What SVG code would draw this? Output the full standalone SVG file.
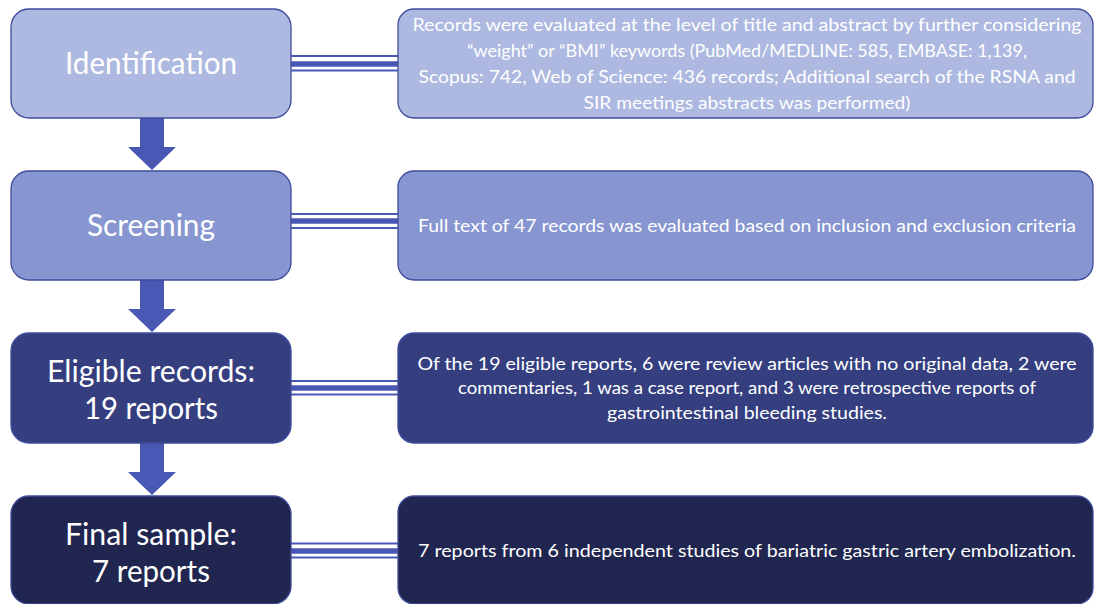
<svg xmlns="http://www.w3.org/2000/svg" width="1094" height="604" viewBox="0 0 1094 604">
<style>
.n1{fill:#adb9e0;stroke:#3f4c9c;stroke-width:1.3}
.n2{fill:#8796d0;stroke:#3f4c9c;stroke-width:1.3}
.n3{fill:#353f80;stroke:#3f4c9c;stroke-width:1.3}
.n4{fill:#20264f;stroke:#3f4c9c;stroke-width:1.3}
.big{font-family:Lato,"Open Sans",sans-serif;font-size:30px;fill:#fff;text-anchor:middle}
.sm{font-family:Lato,"Open Sans",sans-serif;font-size:18px;fill:#fff;text-anchor:middle}
.arr{fill:#4a58b5}
.thin{stroke:#4a58b5;stroke-width:2;fill:none}
.thick{stroke:#4a58b5;stroke-width:5.5;fill:none}
</style>
<rect width="1094" height="604" fill="#fff"/>
<g id="connectors">
<path class="arr" d="M140,118 H164 V147 H176 L152,170 L128,147 H140 Z"/>
<path class="arr" d="M140,280 H164 V309 H176 L152,332 L128,309 H140 Z"/>
<path class="arr" d="M140,443 H164 V472 H176 L152,495 L128,472 H140 Z"/>
<g id="c1"><line class="thin" x1="291" y1="56" x2="398" y2="56"/><line class="thick" x1="291" y1="64" x2="398" y2="64"/><line class="thin" x1="291" y1="70.5" x2="398" y2="70.5"/></g>
<g id="c2"><line class="thin" x1="291" y1="214" x2="398" y2="214"/><line class="thick" x1="291" y1="221" x2="398" y2="221"/><line class="thin" x1="291" y1="228" x2="398" y2="228"/></g>
<g id="c3"><line class="thin" x1="291" y1="381" x2="398" y2="381"/><line class="thick" x1="291" y1="388" x2="398" y2="388"/><line class="thin" x1="291" y1="394.5" x2="398" y2="394.5"/></g>
<g id="c4"><line class="thin" x1="291" y1="543.5" x2="398" y2="543.5"/><line class="thick" x1="291" y1="551" x2="398" y2="551"/><line class="thin" x1="291" y1="557.5" x2="398" y2="557.5"/></g>
</g>
<g id="identification">
<rect class="n1" x="11" y="9" width="280" height="109" rx="18"/>
<text class="big" x="151" y="74" textLength="172" lengthAdjust="spacingAndGlyphs">Identification</text>
</g>
<g id="identification-detail">
<rect class="n1" x="398" y="9" width="695" height="109" rx="16"/>
<text class="sm" x="747" y="31" textLength="669" lengthAdjust="spacingAndGlyphs">Records were evaluated at the level of title and abstract by further considering</text>
<text class="sm" x="747" y="57" textLength="560" lengthAdjust="spacingAndGlyphs">“weight” or “BMI” keywords (PubMed/MEDLINE: 585, EMBASE: 1,139,</text>
<text class="sm" x="747" y="83" textLength="657" lengthAdjust="spacingAndGlyphs">Scopus: 742, Web of Science: 436 records; Additional search of the RSNA and</text>
<text class="sm" x="747" y="109" textLength="327" lengthAdjust="spacingAndGlyphs">SIR meetings abstracts was performed)</text>
</g>
<g id="screening">
<rect class="n2" x="11" y="171" width="280" height="109" rx="18"/>
<text class="big" x="151" y="236" textLength="128" lengthAdjust="spacingAndGlyphs">Screening</text>
</g>
<g id="screening-detail">
<rect class="n2" x="398" y="171" width="695" height="109" rx="16"/>
<text class="sm" x="747" y="232" textLength="658" lengthAdjust="spacingAndGlyphs">Full text of 47 records was evaluated based on inclusion and exclusion criteria</text>
</g>
<g id="eligible">
<rect class="n3" x="11" y="333" width="280" height="110" rx="18"/>
<text class="big" x="151" y="382" textLength="208" lengthAdjust="spacingAndGlyphs">Eligible records:</text>
<text class="big" x="151" y="419" textLength="134" lengthAdjust="spacingAndGlyphs">19 reports</text>
</g>
<g id="eligible-detail">
<rect class="n3" x="398" y="333" width="695" height="110" rx="16"/>
<text class="sm" x="747" y="370" textLength="659" lengthAdjust="spacingAndGlyphs">Of the 19 eligible reports, 6 were review articles with no original data, 2 were</text>
<text class="sm" x="747" y="394" textLength="578" lengthAdjust="spacingAndGlyphs">commentaries, 1 was a case report, and 3 were retrospective reports of</text>
<text class="sm" x="747" y="419" textLength="280" lengthAdjust="spacingAndGlyphs">gastrointestinal bleeding studies.</text>
</g>
<g id="final">
<rect class="n4" x="11" y="496" width="280" height="108" rx="18"/>
<text class="big" x="151" y="545" textLength="172" lengthAdjust="spacingAndGlyphs">Final sample:</text>
<text class="big" x="151" y="582" textLength="118" lengthAdjust="spacingAndGlyphs">7 reports</text>
</g>
<g id="final-detail">
<rect class="n4" x="398" y="496" width="695" height="108" rx="16"/>
<text class="sm" x="747" y="557" textLength="658" lengthAdjust="spacingAndGlyphs">7 reports from 6 independent studies of bariatric gastric artery embolization.</text>
</g>
</svg>
